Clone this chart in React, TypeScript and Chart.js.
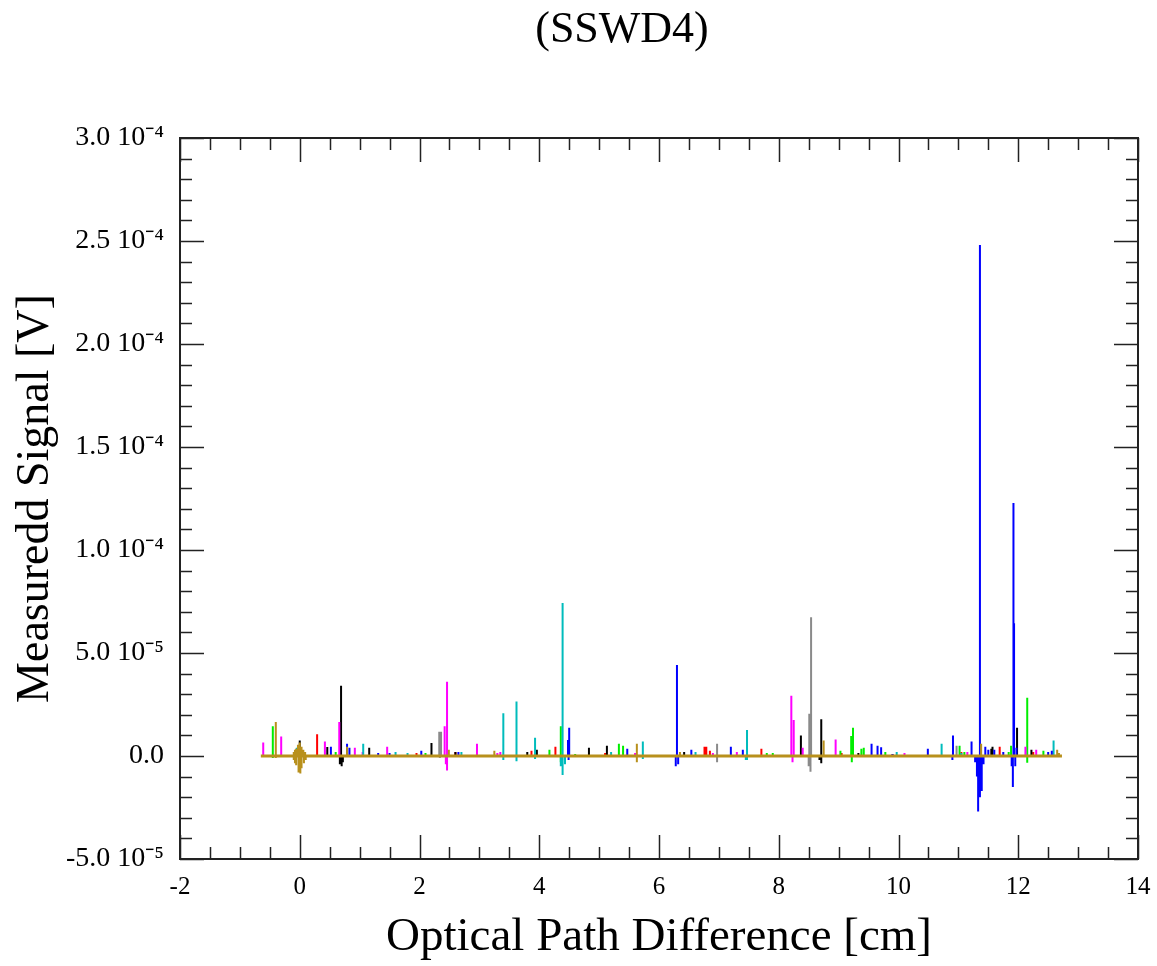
import React, { useEffect, useRef } from "react";
import { Chart, registerables } from "chart.js";

Chart.register(...registerables);

// ---------- text ----------
const TITLE = "(SSWD4)";
const X_TITLE = "Optical Path Difference [cm]";
const Y_TITLE = "Measuredd Signal [V]";

// ---------- axes ----------
const X_MIN = -2;
const X_MAX = 14;
const X_MAJOR_STEP = 2;
const X_MINOR_STEP = 0.5;
const X_TICK_VALUES = [-2, 0, 2, 4, 6, 8, 10, 12, 14];
const X_TICK_LABELS = ["-2", "0", "2", "4", "6", "8", "10", "12", "14"];

const UNIT = 1e-5; // values below are in units of 1e-5 V
const Y_MIN = -5;
const Y_MAX = 30;
const Y_MAJOR_STEP = 5;
const Y_MINOR_STEP = 1;
const Y_TICK_VALUES = [-5, 0, 5, 10, 15, 20, 25, 30];
const Y_TICK_LABELS = [
  "-5.0 10\u207B\u2075",
  "0.0",
  "5.0 10\u207B\u2075",
  "1.0 10\u207B\u2074",
  "1.5 10\u207B\u2074",
  "2.0 10\u207B\u2074",
  "2.5 10\u207B\u2074",
  "3.0 10\u207B\u2074",
];

// ---------- data: [OPD cm, signal in 1e-5 V] ----------
const BASELINE_X = [-0.65, 12.73];

const goldSpikes: [number, number][] = [
  [-0.4, 1.65], [-0.4, -0.1],
  [-0.1, 0.2], [-0.1, -0.2], [-0.08, 0.3], [-0.08, -0.35],
  [-0.06, 0.35], [-0.06, -0.45], [-0.03, 0.55], [-0.02, -0.8], [0.0, 0.65],
  [0.01, -0.85], [0.03, 0.45], [0.03, -0.6], [0.06, 0.3], [0.07, -0.35],
  [0.09, 0.2], [0.1, -0.2],
  [0.79, 0.45], [2.49, 0.3], [3.25, 0.25], [5.63, 0.6], [5.63, -0.3],
  [6.35, 0.2], [8.75, 0.75], [11.38, 0.6], [12.65, 0.3], [12.68, 0.15],
];

const blueSpikes: [number, number][] = [
  [0.52, 0.45], [0.79, 0.6], [0.83, 0.4], [1.31, 0.15], [1.5, 0.15],
  [2.03, 0.25], [2.65, 0.2], [4.48, 0.78], [4.5, 1.37], [4.49, -0.2],
  [5.47, 0.35], [6.3, 4.42], [6.28, -0.5], [6.32, -0.4], [6.54, 0.3],
  [7.2, 0.45], [7.4, 0.3], [9.55, 0.6], [9.65, 0.5], [9.71, 0.42],
  [9.9, 0.1], [10.49, 0.35], [10.91, 1.0], [10.9, -0.2], [11.22, 0.7],
  [11.28, -0.3], [11.31, -1.0], [11.33, -2.7], [11.36, 24.8], [11.36, -2.0],
  [11.39, -1.7], [11.42, -0.4], [11.45, 0.45], [11.5, 0.3], [11.6, 0.3],
  [11.75, 0.2], [11.89, -0.5], [11.91, -1.5], [11.92, 12.28], [11.93, 6.45],
  [11.95, -0.5], [11.97, 0.4], [12.5, 0.2], [12.56, 0.25],
];

const cyanSpikes: [number, number][] = [
  [-0.05, 0.4], [1.06, 0.6], [1.6, 0.2], [1.8, 0.15], [2.7, 0.2],
  [3.4, 2.07], [3.4, -0.2], [3.62, 2.64], [3.62, -0.25], [3.93, 0.89],
  [3.93, -0.15], [4.39, 7.43], [4.39, -0.92], [4.36, -0.5], [4.43, -0.4],
  [5.2, 0.2], [5.73, 0.7], [5.73, -0.15], [6.61, 0.2], [7.47, 1.26],
  [7.47, -0.2], [7.45, -0.2], [9.97, 0.2], [10.72, 0.6], [11.05, 0.15],
  [12.59, 0.75],
];

const magentaSpikes: [number, number][] = [
  [-0.61, 0.65], [-0.31, 0.95], [0.42, 0.7], [0.66, 1.65], [0.92, 0.4],
  [1.05, 0.2], [1.46, 0.45], [2.42, 1.45], [2.46, 3.6], [2.46, -0.7],
  [2.44, -0.4], [2.96, 0.6], [3.3, 0.15], [3.35, 0.2], [5.6, 0.15],
  [6.9, 0.15], [7.3, 0.2], [8.21, 2.93], [8.25, 1.75], [8.23, -0.3],
  [8.4, 0.4], [8.95, 0.8], [10.1, 0.15], [11.15, 0.2], [12.12, 0.45],
  [12.3, 0.3],
];

const blackSpikes: [number, number][] = [
  [0.0, 0.75], [0.46, 0.44], [0.69, 3.41], [0.67, -0.4], [0.7, -0.5],
  [0.72, -0.3], [1.16, 0.4], [2.2, 0.63], [2.6, 0.2], [3.8, 0.2],
  [3.96, 0.3], [4.83, 0.4], [5.13, 0.5], [6.42, 0.2], [8.37, 0.99],
  [8.71, 1.78], [8.71, -0.35], [8.68, -0.2], [9.33, 0.15], [11.55, 0.35],
  [11.57, 0.45], [11.98, 1.37], [12.22, 0.3],
];

const graySpikes: [number, number][] = [
  [2.33, 1.18], [2.36, 1.18], [2.34, -0.1], [6.97, 0.6], [6.97, -0.3],
  [8.51, 2.05], [8.54, 6.73], [8.53, -0.76], [8.5, -0.5], [10.97, 0.5],
];

const greenSpikes: [number, number][] = [
  [-0.45, 1.45], [-0.45, -0.1], [0.6, 0.2], [2.1, 0.15], [4.17, 0.3],
  [4.36, 1.45], [4.36, -0.3], [4.6, 0.1], [5.33, 0.6], [5.4, 0.5],
  [7.8, 0.15], [7.9, 0.15], [9.03, 0.25], [9.21, 0.97], [9.24, 1.37],
  [9.22, -0.3], [9.38, 0.35], [9.42, 0.4], [9.78, 0.2], [11.02, 0.5],
  [11.1, 0.2], [11.84, 0.2], [11.88, 0.5], [12.15, 2.83], [12.15, -0.33],
  [12.42, 0.25],
];

const redSpikes: [number, number][] = [
  [0.29, 1.05], [1.95, 0.15], [2.6, 0.2], [3.87, 0.25], [4.27, 0.45],
  [5.1, 0.15], [6.76, 0.45], [6.79, 0.45], [6.85, 0.25], [7.71, 0.35],
  [9.05, 0.15], [9.9, 0.1], [11.05, 0.2], [11.69, 0.45], [12.25, 0.2],
];

const SERIES = [
  { name: "gold", color: "#b8901c", spikes: goldSpikes },
  { name: "blue", color: "#0000ff", spikes: blueSpikes },
  { name: "cyan", color: "#00bcbc", spikes: cyanSpikes },
  { name: "magenta", color: "#ff00ff", spikes: magentaSpikes },
  { name: "black", color: "#000000", spikes: blackSpikes },
  { name: "gray", color: "#8a8a8a", spikes: graySpikes },
  { name: "green", color: "#00ee00", spikes: greenSpikes },
  { name: "red", color: "#ff0000", spikes: redSpikes },
];

const SERIF = "'Liberation Serif', 'Times New Roman', Times, serif";

function spikeData(spikes: [number, number][]) {
  const out: { x: number; y: number | null }[] = [];
  for (const [x, v] of spikes) {
    out.push({ x, y: 0 });
    out.push({ x, y: v * UNIT });
    out.push({ x, y: null });
  }
  return out;
}

const framePlugin = {
  id: "frameTicks",
  afterDraw(chart: any) {
    const { ctx, chartArea: a, scales } = chart;
    const xs = scales.x;
    const ys = scales.y;
    ctx.save();
    ctx.strokeStyle = "#222";
    ctx.lineWidth = 1.5;
    ctx.beginPath();
    const nX = Math.round((X_MAX - X_MIN) / X_MINOR_STEP);
    for (let i = 0; i <= nX; i++) {
      const v = X_MIN + i * X_MINOR_STEP;
      const major = Math.abs(v / X_MAJOR_STEP - Math.round(v / X_MAJOR_STEP)) < 1e-6;
      const len = major ? 24 : 12;
      const px = Math.round(xs.getPixelForValue(v)) + 0.5;
      ctx.moveTo(px, a.bottom);
      ctx.lineTo(px, a.bottom - len);
      ctx.moveTo(px, a.top);
      ctx.lineTo(px, a.top + len);
    }
    const nY = Math.round((Y_MAX - Y_MIN) / Y_MINOR_STEP);
    for (let i = 0; i <= nY; i++) {
      const v = Y_MIN + i * Y_MINOR_STEP;
      const major = Math.abs(v / Y_MAJOR_STEP - Math.round(v / Y_MAJOR_STEP)) < 1e-6;
      const len = major ? 24 : 12;
      const py = Math.round(ys.getPixelForValue(v * UNIT)) + 0.5;
      ctx.moveTo(a.left, py);
      ctx.lineTo(a.left + len, py);
      ctx.moveTo(a.right, py);
      ctx.lineTo(a.right - len, py);
    }
    ctx.stroke();
    ctx.lineWidth = 2;
    ctx.strokeStyle = "#222";
    ctx.strokeRect(a.left, a.top, a.right - a.left, a.bottom - a.top);

    // chart title
    ctx.fillStyle = "#000";
    ctx.font = `44px ${SERIF}`;
    ctx.textAlign = "center";
    ctx.textBaseline = "middle";
    ctx.fillText(TITLE, 622, 30);
    ctx.restore();
  },
};

export default function App() {
  const ref = useRef<HTMLCanvasElement | null>(null);

  useEffect(() => {
    document.body.style.margin = "0";
    const canvas = ref.current;
    if (!canvas) return;

    const datasets: any[] = [
      {
        label: "baseline",
        data: BASELINE_X.map((x) => ({ x, y: 0 })),
        borderColor: "#b8901c",
        borderWidth: 3,
        pointRadius: 0,
        tension: 0,
      },
      ...SERIES.map((s) => ({
        label: s.name,
        data: spikeData(s.spikes),
        borderColor: s.color,
        borderWidth: 2,
        pointRadius: 0,
        tension: 0,
        spanGaps: false,
        borderJoinStyle: "bevel",
      })),
    ];

    const chart = new Chart(canvas, {
      type: "line",
      data: { datasets },
      options: {
        animation: false,
        responsive: false,
        events: [],
        layout: { padding: { top: 138, right: 19, left: 0, bottom: 0 } },
        plugins: {
          legend: { display: false },
          title: { display: false },
          tooltip: { enabled: false },
        },
        scales: {
          x: {
            type: "linear",
            min: X_MIN,
            max: X_MAX,
            grid: { display: false, drawTicks: false },
            border: { display: false },
            afterBuildTicks: (scale: any) => {
              scale.ticks = X_TICK_VALUES.map((value) => ({ value }));
            },
            afterFit: (scale: any) => {
              scale.height = 107;
              scale.paddingLeft = 0;
              scale.paddingRight = 0;
            },
            ticks: {
              autoSkip: false,
              maxRotation: 0,
              padding: 13,
              color: "#000",
              font: { family: SERIF, size: 25 },
              callback: (value: any) => {
                const i = X_TICK_VALUES.findIndex((t) => Math.abs(t - Number(value)) < 1e-9);
                return i >= 0 ? X_TICK_LABELS[i] : "";
              },
            },
            title: {
              display: true,
              text: X_TITLE,
              color: "#000",
              font: { family: SERIF, size: 47 },
              padding: { top: 0, bottom: 0 },
            },
          },
          y: {
            type: "linear",
            min: Y_MIN * UNIT,
            max: Y_MAX * UNIT,
            grid: { display: false, drawTicks: false },
            border: { display: false },
            afterBuildTicks: (scale: any) => {
              scale.ticks = Y_TICK_VALUES.map((v) => ({ value: v * UNIT }));
            },
            afterFit: (scale: any) => {
              scale.width = 180;
              scale.paddingTop = 0;
              scale.paddingBottom = 0;
            },
            ticks: {
              autoSkip: false,
              padding: 16,
              color: "#000",
              font: { family: SERIF, size: 28 },
              callback: (value: any) => {
                const i = Y_TICK_VALUES.findIndex((t) => Math.abs(t * UNIT - Number(value)) < 1e-12);
                return i >= 0 ? Y_TICK_LABELS[i] : "";
              },
            },
            title: {
              display: true,
              text: Y_TITLE,
              color: "#000",
              font: { family: SERIF, size: 46 },
              padding: { top: 8, bottom: 0 },
            },
          },
        },
      },
      plugins: [framePlugin],
    });

    return () => chart.destroy();
  }, []);

  return (
    <div style={{ position: "absolute", left: 0, top: 0, width: 1157, height: 966, background: "#fff" }}>
      <canvas ref={ref} width={1157} height={966} />
    </div>
  );
}
